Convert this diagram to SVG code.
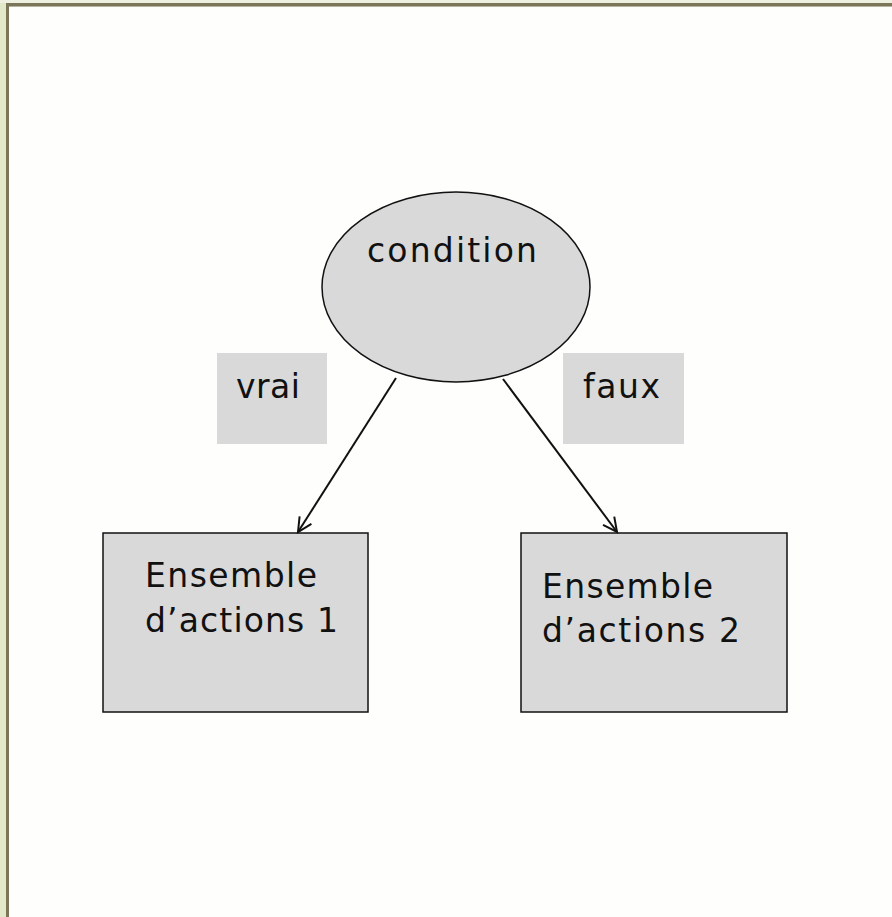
<svg xmlns="http://www.w3.org/2000/svg" width="892" height="917" viewBox="0 0 892 917">
  <style>
    .shape { fill: #d9d9d9; stroke: #111; stroke-width: 1.5; }
    .label { fill: #d9d9d9; }
    .txt { font-family: "DejaVu Sans", "Liberation Sans", sans-serif; font-size: 33px; fill: #111; }
    .edge { stroke: #111; stroke-width: 2; fill: none; }
  </style>
  <defs>
    <marker id="open-arrow" markerWidth="20" markerHeight="20" refX="16" refY="10" orient="auto" markerUnits="userSpaceOnUse">
      <path d="M2,3 L16,10 L2,17" fill="none" stroke="#111" stroke-width="2"/>
    </marker>
  </defs>

  <!-- page background and frame -->
  <rect x="0" y="0" width="892" height="917" fill="#fefefc"/>
  <rect x="0" y="0" width="6" height="917" fill="#e2e9c8"/>
  <rect x="0" y="0" width="892" height="3" fill="#eef0e0"/>
  <rect x="6" y="3" width="886" height="3" fill="#7b7559"/>
  <rect x="6" y="3" width="3" height="914" fill="#7b7559"/>
  <rect x="9" y="6" width="883" height="1" fill="#b6b39f"/>

  <!-- decision node -->
  <g id="condition">
    <ellipse class="shape" cx="456" cy="287" rx="134" ry="95"/>
    <text class="txt" x="367" y="262" textLength="170" lengthAdjust="spacing">condition</text>
  </g>

  <!-- branch labels -->
  <g id="label-vrai">
    <rect class="label" x="217" y="353" width="110" height="91"/>
    <text class="txt" x="236" y="398" textLength="64" lengthAdjust="spacing">vrai</text>
  </g>
  <g id="label-faux">
    <rect class="label" x="563" y="353" width="121" height="91"/>
    <text class="txt" x="583" y="398" textLength="77" lengthAdjust="spacing">faux</text>
  </g>

  <!-- action blocks -->
  <g id="actions-1">
    <rect class="shape" x="103" y="533" width="265" height="179"/>
    <text class="txt" x="145" y="587" textLength="172" lengthAdjust="spacing">Ensemble</text>
    <text class="txt" x="145" y="632" textLength="193" lengthAdjust="spacing">d’actions 1</text>
  </g>
  <g id="actions-2">
    <rect class="shape" x="521" y="533" width="266" height="179"/>
    <text class="txt" x="542" y="598" textLength="171" lengthAdjust="spacing">Ensemble</text>
    <text class="txt" x="542" y="642" textLength="198" lengthAdjust="spacing">d’actions 2</text>
  </g>

  <!-- connectors -->
  <g id="connectors">
    <line class="edge" x1="396" y1="378" x2="298" y2="532" marker-end="url(#open-arrow)"/>
    <line class="edge" x1="503" y1="379" x2="617" y2="532" marker-end="url(#open-arrow)"/>
  </g>
</svg>
